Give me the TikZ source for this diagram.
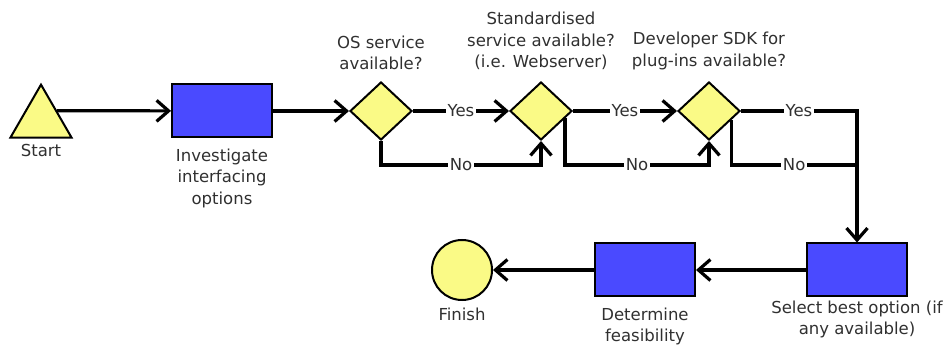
\documentclass[tikz,border=0pt]{standalone}
\usepackage{fontspec}
\setmainfont{DejaVu Sans}
\usetikzlibrary{arrows.meta,shapes.geometric,calc}
\definecolor{termyellow}{HTML}{FAFA86}
\definecolor{stepblue}{HTML}{4A4AFF}
\definecolor{textgrey}{HTML}{303030}
\tikzset{
    every label/.style={text=textgrey, align=center, inner sep=0pt},
    terminal/.style={draw=black, fill=termyellow, line width=2pt, inner sep=0pt},
    task/.style={draw=black, fill=stepblue, line width=2pt,
        minimum width=100pt, minimum height=53pt, inner sep=0pt},
    decision/.style={diamond, draw=black, fill=termyellow, line width=2pt,
        minimum width=62pt, minimum height=58pt, inner sep=0pt},
    link/.style={line width=3.2pt, black},
    flow/.style={link, -{Straight Barb[length=12pt,width=21pt]}},
    answer/.style={fill=white, text=textgrey, inner sep=1.5pt}
}

\begin{document}
\begin{tikzpicture}[x=1pt, y=-1pt, font=\fontsize{16.5}{21.5}\selectfont]
                \useasboundingbox (0,0) rectangle (943,347);
                % top row
                \node[terminal, regular polygon, regular polygon sides=3, minimum size=70.7pt,
                    label={[label distance=5pt]below:Start}] (start) at (41,120) {};
                \node[task, label={[label distance=10pt]below:Investigate\\interfacing\\options}] (invest) at (222,111) {};
                \node[decision, label={[label distance=11pt]above:OS service\\available?}] (os) at (381,111) {};
                \node[decision, label={[label distance=11pt]above:Standardised\\service available?\\(i.e. Webserver)}] (std) at (541,111) {};
                \node[decision, label={[label distance=11pt]above:Developer SDK for\\plug-ins available?}] (sdk) at (709,111) {};
                % bottom row
                \node[task, label={[label distance=3pt]below:Select best option (if\\any available)}] (select) at (857,270) {};
                \node[task, label={[label distance=10pt]below:Determine\\feasibility}] (determine) at (645,270) {};
                \node[terminal, circle, minimum size=60pt, label={[label distance=7pt]below:Finish}] (finish) at (462,270) {};
                \coordinate (startout) at ($(start.corner 1)!0.5!(start.corner 3)$);
                \coordinate (nolevel) at (0,165);
                % connectors
                \draw[flow] (startout) -- (invest);
                \draw[flow] (invest) -- (os);
                \draw[flow] (os) -- node[answer]{Yes} (std);
                \draw[flow] (std) -- node[answer]{Yes} (sdk);
                \draw[flow] (os.south) |- node[answer, pos=0.75]{No} (std.south |- nolevel) -- (std.south);
                \draw[flow] ($(std.east)!0.25!(std.south)$) |- node[answer, pos=0.75]{No} (sdk.south |- nolevel) -- (sdk.south);
                \draw[flow] (sdk) -| node[answer, pos=0.25]{Yes} (select);
                \draw[link] ($(sdk.east)!0.3!(sdk.south)$) |- node[answer, pos=0.75]{No} (select |- nolevel);
                \draw[flow] (select) -- (determine);
                \draw[flow] (determine) -- (finish);
            \end{tikzpicture}
\end{document}
